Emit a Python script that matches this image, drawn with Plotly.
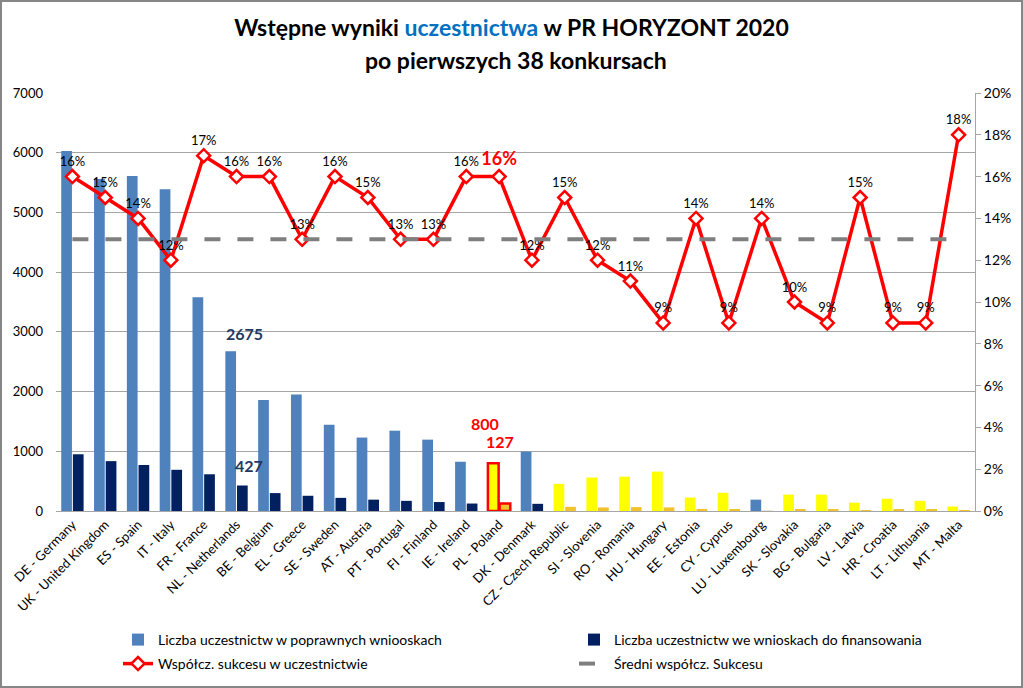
import plotly.graph_objects as go

categories = ["DE - Germany", "UK - United Kingdom", "ES - Spain", "IT - Italy", "FR - France",
              "NL - Netherlands", "BE - Belgium", "EL - Greece", "SE - Sweden", "AT - Austria",
              "PT - Portugal", "FI - Finland", "IE - Ireland", "PL - Poland", "DK - Denmark",
              "CZ - Czech Republic", "SI - Slovenia", "RO - Romania", "HU - Hungary", "EE - Estonia",
              "CY - Cyprus", "LU - Luxembourg", "SK - Slovakia", "BG - Bulgaria", "LV - Latvia",
              "HR - Croatia", "LT - Lithuania", "MT - Malta"]

# participations in eligible proposals
eligible = [6030, 5560, 5610, 5390, 3580, 2675, 1860, 1950, 1445, 1230,
            1345, 1195, 825, 800, 995, 455, 560, 575, 660, 225,
            305, 190, 275, 275, 140, 205, 170, 75]
# participations in proposals selected for funding
funded = [950, 835, 770, 690, 615, 427, 300, 255, 220, 190,
          170, 150, 125, 127, 120, 70, 60, 65, 60, 35,
          30, 15, 30, 30, 15, 25, 20, 10]
# success rate (%)
success = [16, 15, 14, 12, 17, 16, 16, 13, 16, 15,
           13, 13, 16, 16, 12, 15, 12, 11, 9, 14,
           9, 14, 10, 9, 15, 9, 9, 18]
avg_success = 13

# group: 1 = EU-15, 0 = EU-13, 2 = Poland (highlighted)
group = [1] * 13 + [2, 1] + [0] * 6 + [1] + [0] * 6

FONT = "Lato"
light_col = {1: "#4F81BD", 0: "#FFFF00", 2: "#FFFF00"}
dark_col = {1: "#002060", 0: "#F2C12E", 2: "#F2C12E"}
light_colors = [light_col[g] for g in group]
dark_colors = [dark_col[g] for g in group]
dark_colors[21] = "#E8E4D0"
edge_col = ["#FF0000" if g == 2 else "rgba(0,0,0,0)" for g in group]
edge_w = [2.5 if g == 2 else 0 for g in group]

fig = go.Figure()
fig.add_trace(go.Bar(x=categories, y=eligible, name="Liczba uczestnictw w poprawnych wniooskach",
                     marker=dict(color=light_colors, line=dict(color=edge_col, width=edge_w)),
                     yaxis="y", legend="legend"))
fig.add_trace(go.Bar(x=categories, y=funded, name="Liczba uczestnictw we wnioskach do finansowania",
                     marker=dict(color=dark_colors, line=dict(color=edge_col, width=edge_w)),
                     yaxis="y", legend="legend"))

labels = [f"<b>{v}%</b>" if g == 2 else f"{v}%" for v, g in zip(success, group)]
lab_col = ["#FF0000" if g == 2 else "#000000" for g in group]
lab_size = [18 if g == 2 else 13 for g in group]
fig.add_trace(go.Scatter(x=categories, y=success, name="Współcz. sukcesu w uczestnictwie",
                         mode="lines+markers+text", yaxis="y2", legend="legend2",
                         line=dict(color="#FF0000", width=3.5),
                         marker=dict(symbol="diamond", size=10, color="#FFFFFF",
                                     line=dict(color="#FF0000", width=2.5)),
                         text=labels, textposition="top center",
                         textfont=dict(family=FONT, color=lab_col, size=lab_size)))
fig.add_trace(go.Scatter(x=[categories[0], categories[-1]], y=[avg_success, avg_success],
                         name="Średni współcz. Sukcesu", mode="lines", yaxis="y2", legend="legend2",
                         line=dict(color="#7F7F7F", width=4, dash="16px,17px")))

anns = [
    dict(x=categories[5], y=2675, text="<b>2675</b>", color="#1F3864", xshift=8, yshift=18, size=16),
    dict(x=categories[5], y=427, text="<b>427</b>", color="#1F3864", xshift=12, yshift=20, size=16),
    dict(x=categories[13], y=800, text="<b>800</b>", color="#FF0000", xshift=-14, yshift=40, size=16),
    dict(x=categories[13], y=127, text="<b>127</b>", color="#FF0000", xshift=1, yshift=62, size=16),
]
annotations = [dict(x=a["x"], y=a["y"], xref="x", yref="y", text=a["text"], showarrow=False,
                    xshift=a["xshift"], yshift=a["yshift"],
                    font=dict(family=FONT, size=a["size"], color=a["color"])) for a in anns]
annotations.append(dict(x=0.5, y=(511 - 60) / 418, xref="paper", yref="paper", showarrow=False,
                        text="po pierwszych 38 konkursach", xanchor="center", yanchor="middle",
                        font=dict(family=FONT, size=23, color="#000000", weight=700)))

legend_common = dict(orientation="h", xref="container", yref="container",
                     x=118 / 1023, xanchor="left", yanchor="top",
                     entrywidth=411, entrywidthmode="pixels", font=dict(family=FONT, size=14),
                     bgcolor="rgba(0,0,0,0)", traceorder="normal")

fig.update_layout(
    width=1023, height=688,
    margin=dict(l=56, r=48, t=93, b=177, autoexpand=False),
    paper_bgcolor="#FFFFFF", plot_bgcolor="#FFFFFF",
    font=dict(family=FONT, size=13, color="#000000"),
    title=dict(text="Wstępne wyniki <span style='color:#0070C0'>uczestnictwa</span> w PR HORYZONT 2020",
               x=0.5, xanchor="center", y=1 - 28 / 688, yanchor="middle",
               font=dict(family=FONT, size=23, color="#000000", weight=700)),
    barmode="group", bargap=0.29, bargroupgap=0.08,
    xaxis=dict(type="category", range=[-0.5, len(categories) - 0.5], tickangle=-45,
               tickfont=dict(size=13), showgrid=False,
               showline=True, linecolor="#A6A6A6", ticks="", automargin=False),
    yaxis=dict(range=[0, 7000], dtick=1000, showgrid=True, gridcolor="#A6A6A6", gridwidth=1,
               zeroline=False, showline=False, tickfont=dict(size=13), automargin=False,
               ticklabelstandoff=12),
    yaxis2=dict(range=[0, 20], dtick=2, ticksuffix="%", overlaying="y", side="right",
                showgrid=False, zeroline=False, showline=True, linecolor="#A6A6A6",
                ticks="outside", ticklen=5, tickcolor="#A6A6A6", tickfont=dict(size=14),
                automargin=False),
    legend=dict(legend_common, y=1 - 624 / 688),
    legend2=dict(legend_common, y=1 - 648 / 688),
    annotations=annotations,
    shapes=[dict(type="rect", xref="paper", yref="paper",
                 x0=-55 / 919, x1=966 / 919, y0=-176 / 418, y1=510 / 418,
                 line=dict(color="#868686", width=2), fillcolor="rgba(0,0,0,0)", layer="below")],
    showlegend=True,
)

fig.write_html("out.html", config={"displayModeBar": False},
               post_script="document.body.style.margin='0';")
